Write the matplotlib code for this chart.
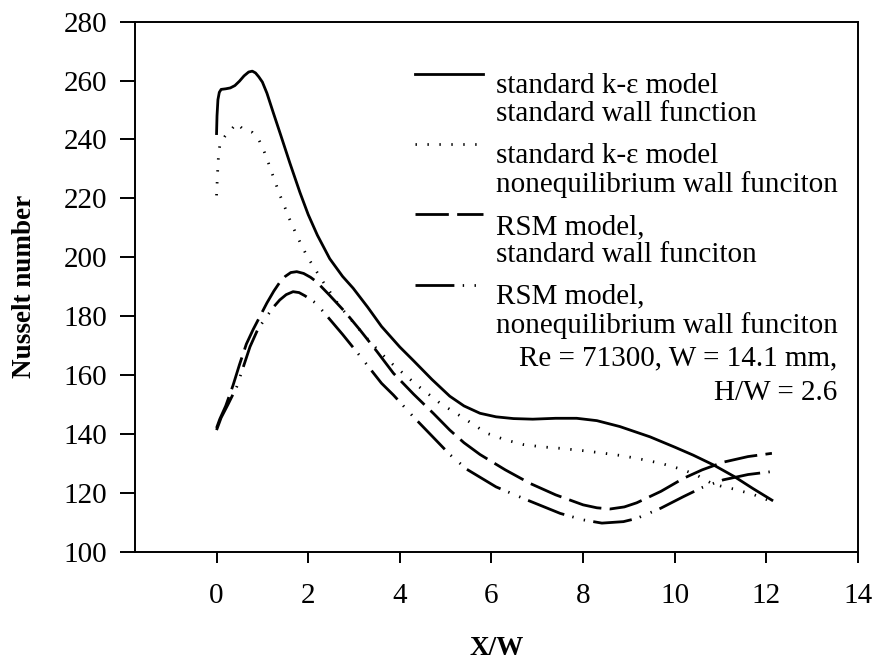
import matplotlib
matplotlib.use("Agg")
import matplotlib.pyplot as plt
import numpy as np
from matplotlib.legend_handler import HandlerLine2D

plt.rcParams['font.family'] = ['Liberation Serif', 'DejaVu Serif']
plt.rcParams['lines.scale_dashes'] = False

# standard k-eps, standard wall function
x_std = [0.0, 0.01, 0.03, 0.06, 0.1, 0.2, 0.3, 0.4, 0.5, 0.6, 0.7, 0.78, 0.85, 0.92, 1.0,
         1.1, 1.24, 1.4, 1.6, 1.82, 2.0, 2.2, 2.47, 2.75, 2.98, 3.3, 3.6, 4.0, 4.29, 4.7,
         5.09, 5.4, 5.75, 6.1, 6.48, 6.9, 7.4, 7.86, 8.3, 8.8, 9.46, 10.0, 10.4, 10.84,
         11.3, 11.7, 12.12]
y_std = [242.0, 248.0, 253.5, 256.0, 257.0, 257.2, 257.5, 258.3, 259.8, 261.6, 262.9, 263.2, 262.6, 261.3, 259.5,
         255.7, 249.0, 241.5, 232.0, 222.0, 214.5, 207.5, 199.5, 193.5, 189.5, 183.0, 176.5, 169.5, 165.0, 158.5,
         152.8, 149.5, 147.0, 145.8, 145.2, 145.0, 145.3, 145.3, 144.5, 142.5, 139.0, 135.5, 132.8, 129.5,
         125.5, 121.5, 117.5]

# standard k-eps, nonequilibrium wall function
x_neq = [0.0, 0.02, 0.04, 0.07, 0.18, 0.31, 0.44, 0.57, 0.78, 0.92, 1.02, 1.11, 1.2, 1.29, 1.38, 1.49,
         1.6, 1.72, 1.84, 1.98, 2.31, 2.68, 2.91, 3.25, 3.6, 3.86, 4.37, 4.88, 5.38, 5.9, 6.3,
         6.69, 7.1, 7.5, 8.0, 8.37, 8.8, 9.17, 9.7, 10.19, 10.5, 10.77, 11.0, 11.28, 11.7, 12.12]
y_neq = [221.0, 228.0, 233.8, 237.9, 241.0, 243.2, 245.5, 243.6, 242.4, 240.0, 236.7, 233.0, 229.0, 225.1, 221.2, 217.0,
         212.7, 208.5, 204.5, 200.2, 192.0, 183.5, 179.3, 173.0, 167.2, 163.4, 156.6, 150.4, 145.5, 140.2, 138.0,
         136.4, 135.6, 135.1, 134.3, 133.6, 132.7, 131.7, 130.0, 127.8, 125.8, 123.5, 122.3, 121.3, 119.5, 117.0]

# RSM, standard wall function
x_rsm = [0.0, 0.07, 0.2, 0.36, 0.5, 0.65, 0.8, 0.95, 1.1, 1.25, 1.38, 1.5, 1.62, 1.75, 1.9, 2.05,
         2.18, 2.46, 2.8, 3.13, 3.5, 3.86, 4.3, 4.73, 5.09, 5.4, 5.75, 6.3, 6.84, 7.4, 8.0,
         8.3, 8.59, 8.9, 9.17, 9.7, 10.19, 10.6, 11.06, 11.6, 12.12]
y_rsm = [142.0, 145.0, 149.5, 156.5, 163.5, 170.5, 175.5, 180.0, 184.5, 188.5, 191.5, 193.5, 194.8, 195.1, 194.5, 193.2,
         191.7, 187.2, 181.5, 175.3, 168.0, 160.6, 153.5, 147.0, 141.3, 137.0, 133.0, 127.8, 123.2, 119.3, 115.9,
         114.9, 114.5, 115.2, 116.6, 120.5, 124.9, 127.8, 130.4, 132.3, 133.4]

# RSM, nonequilibrium wall function
x_rsmn = [0.0, 0.1, 0.25, 0.44, 0.6, 0.73, 0.9, 1.09, 1.25, 1.38, 1.52, 1.67, 1.8, 1.93, 2.15, 2.33,
          2.75, 3.17, 3.6, 3.86, 4.29, 4.7, 5.09, 5.46, 6.1, 6.77, 7.5, 8.0, 8.41, 8.88, 9.17,
          9.7, 10.19, 10.6, 11.06, 11.6, 12.12]
y_rsmn = [141.3, 145.5, 150.0, 156.0, 163.5, 169.6, 175.5, 179.8, 183.2, 185.5, 187.3, 188.3, 188.0, 186.9, 184.6, 181.5,
          173.8, 165.7, 157.2, 153.2, 145.9, 139.3, 133.0, 128.0, 122.0, 117.6, 113.0, 110.8, 109.7, 110.2, 111.3,
          114.8, 118.7, 121.8, 124.4, 126.2, 127.2]

labels = ['standard k-\u03b5 model\nstandard wall function',
          'standard k-\u03b5 model\nnonequilibrium wall funciton',
          'RSM model,\nstandard wall funciton',
          'RSM model,\nnonequilibrium wall funciton']
note = 'Re = 71300, W = 14.1 mm,\nH/W = 2.6'


class FirstLineHandler(HandlerLine2D):
    # put the key beside the first line of a two-line label
    def create_artists(self, legend, orig_handle, xdescent, ydescent,
                       width, height, fontsize, trans):
        arts = super().create_artists(legend, orig_handle, xdescent, ydescent,
                                      width, height, fontsize, trans)
        for a in arts:
            a.set_ydata(np.asarray(a.get_ydata()) + 0.9 * fontsize)
        return arts


fig = plt.figure(figsize=(8.76, 6.61), dpi=100)
ax = fig.add_axes([0.1541, 0.1654, 0.8254, 0.8018])

kw = dict(color='black', lw=2.0, solid_joinstyle='round', dash_joinstyle='round')
l1, = ax.plot(x_std, y_std, linestyle='-', **kw)
l2, = ax.plot(x_neq, y_neq, linestyle=(0, (1.0, 7.6)), **kw)
l3, = ax.plot(x_rsm, y_rsm, linestyle=(0, (24, 6)), **kw)
l4, = ax.plot(x_rsmn, y_rsmn, linestyle=(0, (28, 6, 1.0, 7.5, 1.0, 6)), **kw)

ax.set_xlim(-1.78, 14)
ax.set_ylim(100, 280)
ax.set_xticks(np.arange(0, 15, 2))
ax.set_yticks(np.arange(100, 281, 20))
ax.tick_params(axis='y', direction='out', length=11, width=1.4, pad=9, labelsize=21)
ax.tick_params(axis='x', direction='out', length=8, width=1.4, pad=14.5, labelsize=21)
for s in ax.spines.values():
    s.set_linewidth(1.4)

ax.set_ylabel('Nusselt number', fontsize=19.5, fontweight='bold')
ax.yaxis.set_label_coords(-0.1355, 0.5)
ax.set_xlabel('X/W', fontsize=19.5, fontweight='bold')
ax.xaxis.set_label_coords(0.5, -0.16)

hm = {h: FirstLineHandler() for h in (l1, l2, l3, l4)}
leg = ax.legend([l1, l2, l3, l4], labels, handler_map=hm, loc='upper left',
                bbox_to_anchor=(0.387, 0.9025), frameon=False, fontsize=21,
                borderpad=0, borderaxespad=0, handlelength=2.35, handletextpad=0.45,
                labelspacing=0.54)
for t in leg.get_texts():
    t.set_linespacing(1.10)

ax.text(0.971, 0.332, note, transform=ax.transAxes, ha='right', va='center',
        fontsize=21, linespacing=1.46)

fig.savefig('out.png', dpi=100)
